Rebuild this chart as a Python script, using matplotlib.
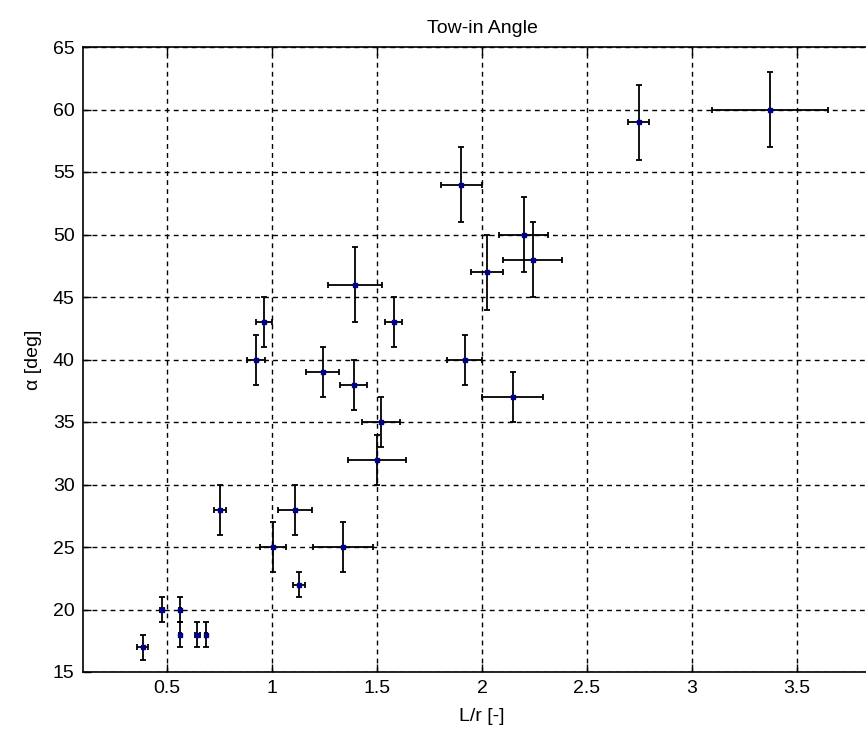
import numpy as np
import matplotlib
matplotlib.use("Agg")
import matplotlib.pyplot as plt

plt.rcParams['font.family'] = ['Liberation Sans', 'DejaVu Sans']

# L/r ratio, tow-in angle, and their uncertainties
lr = [2.746, 3.373, 1.902, 2.198, 2.241, 2.024, 1.395, 1.58, 0.962, 0.925,
      1.241, 1.389, 1.917, 2.146, 1.519, 1.5, 0.754, 1.111, 1.005, 1.338,
      1.127, 0.384, 0.476, 0.563, 0.563, 0.644, 0.686]
alpha = [59, 60, 54, 50, 48, 47, 46, 43, 43, 40,
         39, 38, 40, 37, 35, 32, 28, 28, 25, 25,
         22, 17, 20, 20, 18, 18, 18]
lr_err = [0.05, 0.276, 0.096, 0.115, 0.14, 0.075, 0.13, 0.04, 0.036, 0.043,
          0.08, 0.063, 0.083, 0.146, 0.09, 0.137, 0.028, 0.081, 0.06, 0.145,
          0.028, 0.025, 0.008, 0.006, 0.006, 0.012, 0.006]
alpha_err = [3, 3, 3, 3, 3, 3, 3, 2, 2, 2,
             2, 2, 2, 2, 2, 2, 2, 2, 2, 2,
             1, 1, 1, 1, 1, 1, 1]

xticks = [0.5, 1, 1.5, 2, 2.5, 3, 3.5]
xticklabels = ['0.5', '1', '1.5', '2', '2.5', '3', '3.5']
yticks = [15, 20, 25, 30, 35, 40, 45, 50, 55, 60, 65]

fig = plt.figure(figsize=(8.66, 7.42), dpi=100)
ax = fig.add_axes([83 / 866, 70 / 742, 798 / 866, 625 / 742])

ax.errorbar(lr, alpha, xerr=lr_err, yerr=alpha_err, fmt='none',
            ecolor='black', elinewidth=1.3, capsize=2.5, capthick=1.3, zorder=3)
ax.plot(lr, alpha, 's', color='#00008b', markersize=3.5, zorder=4)

ax.set_xlim(0.1, 3.9)
ax.set_ylim(15, 65)
ax.set_xticks(xticks)
ax.set_xticklabels(xticklabels)
ax.set_yticks(yticks)

ax.grid(True, color='black', linestyle=(0, (3.5, 3)), linewidth=1.0)
ax.tick_params(direction='in', top=True, right=True, length=6, width=1,
               labelsize=14, colors='black', pad=6)
for s in ax.spines.values():
    s.set_linewidth(1.2)

ax.set_title('Tow-in Angle', fontsize=14, pad=10)
ax.set_xlabel('L/r [-]', fontsize=14, labelpad=8)
ax.set_ylabel('\u03b1 [deg]', fontsize=14, labelpad=8)

fig.savefig('out.png', dpi=100)
